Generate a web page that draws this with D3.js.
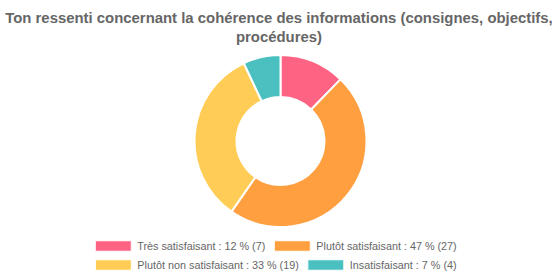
<!doctype html>
<html>
<head>
<meta charset="UTF-8">
<title>Cohérence des informations</title>
<script src="https://cdn.jsdelivr.net/npm/d3@7/dist/d3.min.js"></script>
<style>
  body { margin: 0; background: #fff; }
  text { font-family: "Liberation Sans", Arial, Helvetica, sans-serif; fill: #666; }
</style>
</head>
<body>
<svg id="chart" width="560" height="280"></svg>
<script>
var titleLines = ["Ton ressenti concernant la cohérence des informations (consignes, objectifs,", "procédures)"];
var labels = ["Très satisfaisant", "Plutôt satisfaisant", "Plutôt non satisfaisant", "Insatisfaisant"];
var counts = [7, 27, 19, 4];
var colors = ["#ff6384", "#ff9f40", "#ffcd56", "#4bc0c0"];

var svg = d3.select("#chart");
var cx = 280.5, cy = 141;
var outer = 86, inner = 44;

// title
svg.selectAll("text.title")
    .data(titleLines)
    .enter().append("text")
    .attr("class", "title")
    .attr("x", 279)
    .attr("y", function(d, i) { return 22.5 + i * 19; })
    .attr("text-anchor", "middle")
    .attr("font-size", 14.9)
    .attr("font-weight", "bold")
    .text(function(d) { return d; });

// donut
var total = d3.sum(counts);
var pie = d3.pie().sort(null);
var arc = d3.arc().innerRadius(inner).outerRadius(outer);

svg.append("g")
    .attr("transform", "translate(" + cx + "," + cy + ")")
    .selectAll("path")
    .data(pie(counts))
    .enter().append("path")
    .attr("d", arc)
    .attr("fill", function(d, i) { return colors[i]; })
    .attr("stroke", "#fff")
    .attr("stroke-width", 2);

// legend, two items per row, each row centered
var fontSize = 10.8, boxW = 36, boxH = 10.5, gap = 9;
var items = labels.map(function(l, i) {
    return l + " : " + Math.round(counts[i] / total * 100) + " % (" + counts[i] + ")";
});
var rows = [[0, 1], [2, 3]];
var legend = svg.append("g");

rows.forEach(function(row, r) {
    var y = 246 + r * 19;
    var g = legend.append("g");
    var x = 0;
    row.forEach(function(idx) {
        var t = g.append("text")
            .attr("x", x + boxW + 6)
            .attr("y", y + 3.8)
            .attr("font-size", fontSize)
            .text(items[idx]);
        g.append("rect")
            .attr("x", x)
            .attr("y", y - boxH / 2)
            .attr("width", boxW)
            .attr("height", boxH)
            .attr("fill", colors[idx])
            .attr("stroke", "#fff")
            .attr("stroke-width", 1);
        x += boxW + 6 + t.node().getComputedTextLength() + gap;
    });
    var w = x - gap;
    g.attr("transform", "translate(" + (276 - w / 2) + ",0)");
});
</script>
</body>
</html>
